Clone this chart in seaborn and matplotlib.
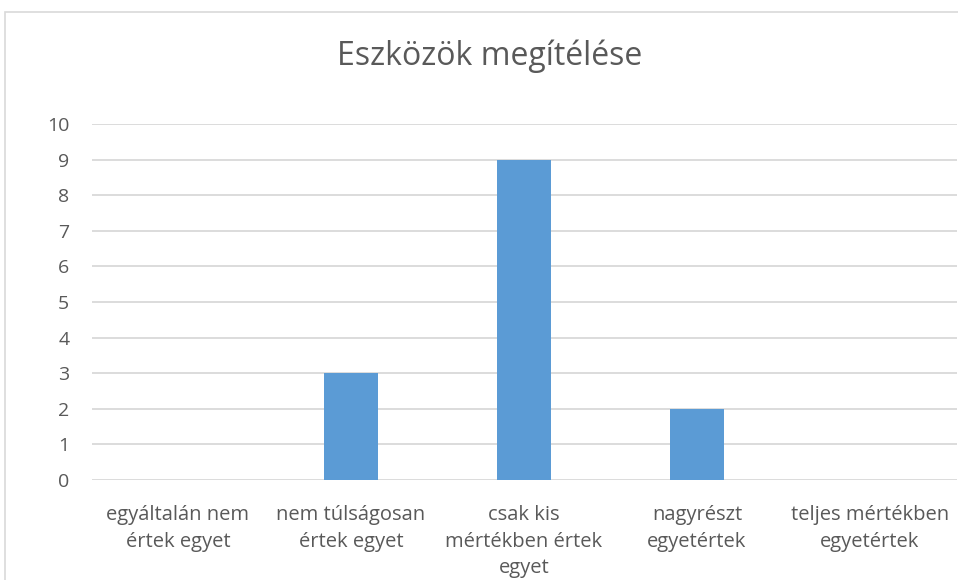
import matplotlib
matplotlib.use("Agg")
import matplotlib.pyplot as plt
import seaborn as sns
import pandas as pd
from matplotlib.patches import Rectangle

categories = ["egyáltalán nem\nértek egyet", "nem túlságosan\nértek egyet",
              "csak kis\nmértékben értek\negyet", "nagyrészt\negyetértek",
              "teljes mértékben\negyetértek"]
counts = [0, 3, 9, 2, 0]
yticks = list(range(0, 11))
title = "Eszközök megítélése"

sns.set_theme(style="white")
plt.rcParams["font.family"] = ["Open Sans", "DejaVu Sans"]

df = pd.DataFrame({"cat": categories, "n": counts})

fig = plt.figure(figsize=(9.58, 5.8), dpi=100)
ax = fig.add_axes([91.5 / 958, 1 - 480 / 580, 865 / 958, 356 / 580])

sns.barplot(data=df, x="cat", y="n", color="#5B9BD5", width=0.31,
            saturation=1, linewidth=0, ax=ax, zorder=3)

ax.set_ylim(0, 10)
ax.set_xlim(-0.5, 4.5)
ax.set_yticks(yticks)
ax.set_yticklabels([str(t) for t in yticks], fontsize=14, color="#595959")
ax.set_xticks(range(len(categories)))
ax.set_xticklabels(categories, fontsize=14.5, color="#595959", linespacing=1.45)
ax.tick_params(axis="both", length=0)
ax.tick_params(axis="y", pad=16)
ax.tick_params(axis="x", pad=18)
ax.grid(axis="y", color="#D9D9D9", linewidth=1.3, zorder=0)
ax.set_axisbelow(True)
for s in ax.spines.values():
    s.set_visible(False)
ax.set_xlabel("")
ax.set_ylabel("")

fig.text(490 / 958, 1 - 56 / 580, title, ha="center", va="center",
         fontsize=23, color="#595959")

# chart border (outer frame of the chart area)
fig.patches.append(Rectangle((5 / 958, -0.1), 1.2, 1 - 12 / 580 + 0.1,
                             transform=fig.transFigure, fill=False,
                             edgecolor="#D9D9D9", linewidth=1.2))

fig.savefig("out.png", dpi=100)
